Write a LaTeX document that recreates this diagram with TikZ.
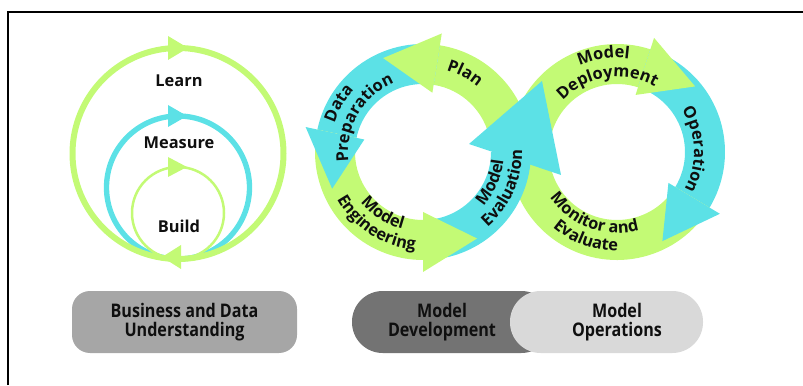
\documentclass[tikz,border=0pt]{standalone}
\usepackage{fontspec}
\setmainfont{Open Sans}
\newfontfamily\pillfont[FakeStretch=0.86]{Open Sans}
\usetikzlibrary{decorations.text}

\definecolor{loopgreen}{RGB}{195,250,117}
\definecolor{loopblue}{RGB}{92,225,230}
\definecolor{pilldark}{RGB}{115,115,115}
\definecolor{pillmid}{RGB}{166,166,166}
\definecolor{pilllight}{RGB}{217,217,217}
\definecolor{labelink}{RGB}{15,15,15}

\newcommand\ringfont{\fontsize{14}{16}\selectfont\bfseries}

\tikzset{
  greenband/.style={fill=loopgreen},
  blueband/.style={fill=loopblue},
  ringlabel/.style={decorate, decoration={text along path, text align=center,
      text color=labelink, text={|\ringfont|#1}}},
  cyclelabel/.style={font=\ringfont, text=labelink},
  pill/.style={rounded corners=9.2mm, minimum height=18.6mm, inner sep=0pt},
  pilltext/.style={font=\pillfont\fontsize{16}{16.5}\selectfont\bfseries,
      align=center, text=labelink},
}

\begin{document}
\begin{tikzpicture}[x=0.3mm, y=0.3mm]
\useasboundingbox (0,0) rectangle (803,385);

% frame
\draw[line width=0.6mm] (8,0) -- (8,373) -- (803,373);

% build - measure - learn
\draw[loopblue, line width=1.6mm] (178,197.5) circle[radius=71.5];
\draw[loopgreen, line width=1.8mm] (178,231.5) circle[radius=105.5];
\draw[loopgreen, line width=0.75mm] (178,172) circle[radius=46];

\fill[greenband] (168,349) -- (168,325) -- (188,337) -- cycle;
\fill[blueband] (168,280) -- (168,258) -- (187,269) -- cycle;
\fill[greenband] (168,228) -- (168,208) -- (187,218) -- cycle;
\fill[greenband] (181,140) -- (181,116) -- (162,128) -- cycle;

\node[cyclelabel] (learn) at (179,304) {Learn};
\node[cyclelabel] (measure) at (179,242) {Measure};
\node[cyclelabel] (build) at (179,159) {Build};

% right loop bodies (clockwise)
\begin{scope}[shift={(617,233)}]
\fill[greenband] (180:108) arc[start angle=180, end angle=72, radius=108] -- (72:68) arc[start angle=72, end angle=180, radius=68] -- cycle;
\fill[blueband] (72:108) arc[start angle=72, end angle=-31, radius=108] -- (-31:68) arc[start angle=-31, end angle=72, radius=68] -- cycle;
\fill[greenband] (-31:108) arc[start angle=-31, end angle=-180, radius=108] -- (-180:68) arc[start angle=-180, end angle=-31, radius=68] -- cycle;
\end{scope}

% left loop bodies (counter clockwise)
\begin{scope}[shift={(423,233)}]
\fill[greenband] (10:108) arc[start angle=10, end angle=81, radius=108] -- (81:68) arc[start angle=81, end angle=10, radius=68] -- cycle;
\fill[blueband] (81:108) arc[start angle=81, end angle=168, radius=108] -- (168:68) arc[start angle=168, end angle=81, radius=68] -- cycle;
\fill[greenband] (168:108) arc[start angle=168, end angle=270, radius=108] -- (270:68) arc[start angle=270, end angle=168, radius=68] -- cycle;
\fill[blueband] (270:108) arc[start angle=270, end angle=360, radius=108] -- (360:68) arc[start angle=360, end angle=270, radius=68] -- cycle;
\end{scope}

% heads
\begin{scope}[shift={(423,233)}]
\fill[greenband] (81:120) -- (81:60) -- (113:102) -- cycle;
\fill[blueband] (168:120) -- (168:60) -- (202:98) -- cycle;
\fill[greenband] (270:120) -- (270:60) -- (302:102) -- cycle;
\end{scope}
\begin{scope}[shift={(617,233)}]
\fill[greenband] (72:120) -- (72:60) -- (40:102) -- cycle;
\fill[blueband] (-31:120) -- (-31:60) -- (-63:100) -- cycle;
\end{scope}
\fill[blueband] (469,241) -- (561,210) -- (542,304) -- cycle;

% loop labels
\begin{scope}[shift={(423,233)}]
\path[ringlabel={Plan}] (132:85) arc[start angle=132, end angle=-8, radius=85];
\path[ringlabel={Data}] (220:93) arc[start angle=220, end angle=80, radius=93];
\path[ringlabel={Preparation}] (220:75) arc[start angle=220, end angle=80, radius=75];
\path[ringlabel={Model}] (167:80) arc[start angle=167, end angle=307, radius=80];
\path[ringlabel={Engineering}] (167:98) arc[start angle=167, end angle=307, radius=98];
\path[ringlabel={Model}] (-94:81) arc[start angle=-94, end angle=46, radius=81];
\path[ringlabel={Evaluation}] (-94:99) arc[start angle=-94, end angle=46, radius=99];
\end{scope}
\begin{scope}[shift={(617,233)}]
\path[ringlabel={Model}] (168:94) arc[start angle=168, end angle=28, radius=94];
\path[ringlabel={Deployment}] (168:75) arc[start angle=168, end angle=28, radius=75];
\path[ringlabel={Operation}] (72:77) arc[start angle=72, end angle=-68, radius=77];
\path[ringlabel={Monitor and}] (180:81) arc[start angle=180, end angle=320, radius=81];
\path[ringlabel={Evaluate}] (180:99) arc[start angle=180, end angle=320, radius=99];
\end{scope}

% phases
\node[pill, pilltext, rounded corners=5.4mm, fill=pillmid, minimum width=67.5mm] (understanding) at (184.5,63) {Business and Data\\Understanding};
\node[pill, fill=pilldark, minimum width=60mm] (development) at (452,63) {};
\node[pill, fill=pilllight, minimum width=57.9mm] (operations) at (606.5,63) {};
\node[pilltext] (developmentlabel) at (442,63) {Model\\Development};
\node[pilltext] (operationslabel) at (617,63) {Model\\Operations};

\end{tikzpicture}
\end{document}
